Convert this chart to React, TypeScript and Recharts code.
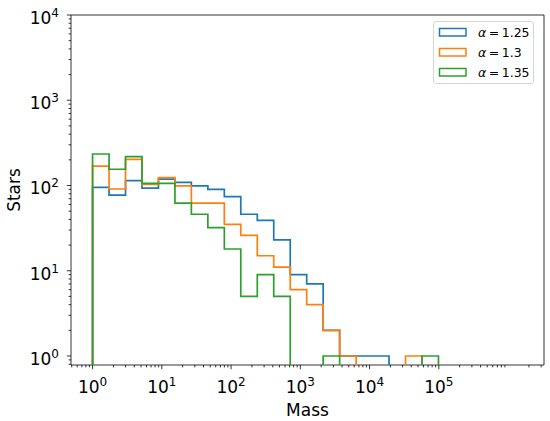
import React from "react";
import {
  Legend,
  Line,
  LineChart,
  ReferenceArea,
  XAxis,
  YAxis,
} from "recharts";

// log-spaced bin edges (same for all three histograms)
const binEdges = [
  1, 1.729, 2.99, 5.17, 8.94, 15.46, 26.7, 46.2, 79.9, 138, 239, 413, 715,
  1236, 2137, 3695, 6390, 11050, 19100, 33030, 57120, 98770, 170800, 295300,
  510600, 883000, 1527000,
];

// star counts per bin
const alpha125 = [95, 77, 114, 93, 119, 109, 99, 90, 74, 46, 39, 23, 9, 7, 2, 1, 1, 1, 0, 0, 0, 0, 0, 0, 0, 0];
const alpha130 = [169, 91, 203, 103, 124, 99, 62, 62, 35, 26, 15, 11, 6, 4, 2, 1, 0, 0, 0, 1, 0, 0, 0, 0, 0, 0];
const alpha135 = [234, 155, 218, 106, 106, 62, 46, 32, 18, 5, 9, 5, 0, 0, 1, 0, 0, 0, 0, 0, 1, 0, 0, 0, 0, 0];

const alphaValues = ["1.25", "1.3", "1.35"];
const seriesNames = alphaValues.map((a) => `α = ${a}`);
const colors = ["#1f77b4", "#ff7f0e", "#2ca02c"];

const xMajor = [1, 10, 100, 1000, 10000, 100000];
const xMinor = [
  0.5, 0.6, 0.7, 0.8, 0.9,
  2, 3, 4, 5, 6, 7, 8, 9,
  20, 30, 40, 50, 60, 70, 80, 90,
  200, 300, 400, 500, 600, 700, 800, 900,
  2000, 3000, 4000, 5000, 6000, 7000, 8000, 9000,
  20000, 30000, 40000, 50000, 60000, 70000, 80000, 90000,
  200000, 300000, 400000, 500000, 600000, 700000, 800000, 900000,
  2000000, 3000000,
];
const yMajor = [1, 10, 100, 1000, 10000];
const yMinor = [
  0.8, 0.9,
  2, 3, 4, 5, 6, 7, 8, 9,
  20, 30, 40, 50, 60, 70, 80, 90,
  200, 300, 400, 500, 600, 700, 800, 900,
  2000, 3000, 4000, 5000, 6000, 7000, 8000, 9000,
];

const X_MIN = 0.488;
const X_MAX = 3.3e6;
const Y_MIN = 0.784;
const Y_MAX = 10000;
const FLOOR = 0.1; // empty bins, drawn below the axis and clipped

const FONT = "DejaVu Sans";

const v = (c: number) => (c > 0 ? c : FLOOR);

const data = [
  { x: binEdges[0], a: FLOOR, b: FLOOR, c: FLOOR },
  ...alpha125.map((_, i) => ({
    x: binEdges[i],
    a: v(alpha125[i]),
    b: v(alpha130[i]),
    c: v(alpha135[i]),
  })),
  { x: binEdges[binEdges.length - 1], a: FLOOR, b: FLOOR, c: FLOOR },
];

const exp10 = (val: number) => Math.round(Math.log10(val));

const XTick = (props: any) => {
  const { x, y, payload } = props;
  const major = xMajor.includes(payload.value);
  return (
    <g>
      <line x1={x} x2={x} y1={y} y2={y + (major ? 4.2 : 2.4)} stroke="#000" strokeWidth={0.8} />
      {major && (
        <text x={x} y={y + 28} textAnchor="middle" fontSize={17} fontFamily={FONT} fill="#000">
          10
          <tspan dy={-7} fontSize={12}>
            {exp10(payload.value)}
          </tspan>
        </text>
      )}
    </g>
  );
};

const YTick = (props: any) => {
  const { x, y, payload } = props;
  const major = yMajor.includes(payload.value);
  return (
    <g>
      <line x1={x} x2={x - (major ? 4.2 : 2.4)} y1={y} y2={y} stroke="#000" strokeWidth={0.8} />
      {major && (
        <text x={x - 12} y={y + 9} textAnchor="end" fontSize={17} fontFamily={FONT} fill="#000">
          10
          <tspan dy={-7} fontSize={12}>
            {exp10(payload.value)}
          </tspan>
        </text>
      )}
    </g>
  );
};

const LegendBox = () => (
  <div
    style={{
      width: 101,
      height: 63,
      boxSizing: "border-box",
      border: "1px solid #d6d6d6",
      borderRadius: 3,
      background: "rgba(255,255,255,0.8)",
    }}
  >
    <svg width={101} height={63} style={{ position: "absolute", left: 0, top: 0 }}>
      {alphaValues.map((a, i) => (
        <g key={a}>
          <rect
            x={6.5}
            y={7.5 + i * 20}
            width={26.5}
            height={7.5}
            fill="none"
            stroke={colors[i]}
            strokeWidth={1.5}
          />
          <text x={45} y={15.8 + i * 20} fontSize={12.5} fontFamily={FONT} fill="#000">
            <tspan fontStyle="italic">α</tspan>
            <tspan dx={2.5}>=</tspan>
            <tspan dx={2.5}>{a}</tspan>
          </text>
        </g>
      ))}
    </svg>
  </div>
);

const App: React.FC = () => {
  return (
    <div style={{ position: "absolute", left: 0, top: 0 }}>
      <LineChart width={550} height={421} data={data} margin={{ top: 15, right: 6, bottom: 0, left: 0 }}>
        <XAxis
          dataKey="x"
          type="number"
          scale="log"
          domain={[X_MIN, X_MAX]}
          allowDataOverflow
          ticks={[...xMajor, ...xMinor]}
          interval={0}
          tick={<XTick />}
          tickLine={false}
          axisLine={false}
          tickSize={0}
          tickMargin={0}
          height={56}
          label={{ value: "Mass", position: "insideBottom", offset: 5, fontSize: 17, fontFamily: FONT, fill: "#000" }}
        />
        <YAxis
          type="number"
          scale="log"
          domain={[Y_MIN, Y_MAX]}
          allowDataOverflow
          ticks={[...yMajor, ...yMinor]}
          interval={0}
          tick={<YTick />}
          tickLine={false}
          axisLine={false}
          tickSize={0}
          tickMargin={0}
          width={71}
          label={{
            value: "Stars",
            angle: -90,
            position: "insideLeft",
            offset: 14,
            fontSize: 17,
            fontFamily: FONT,
            fill: "#000",
            style: { textAnchor: "middle" },
          }}
        />
        <ReferenceArea
          x1={X_MIN}
          x2={X_MAX}
          y1={Y_MIN}
          y2={Y_MAX}
          fill="none"
          stroke="#000"
          strokeWidth={0.8}
          ifOverflow="visible"
        />
        {["a", "b", "c"].map((key, i) => (
          <Line
            key={key}
            dataKey={key}
            name={seriesNames[i]}
            type="stepAfter"
            stroke={colors[i]}
            strokeWidth={1.7}
            dot={false}
            activeDot={false}
            isAnimationActive={false}
          />
        ))}
        <Legend
          layout="horizontal"
          verticalAlign="middle"
          align="center"
          wrapperStyle={{ top: 21, left: 433, width: 101, height: 63 }}
          content={() => <LegendBox />}
        />
      </LineChart>
    </div>
  );
};

export default App;
